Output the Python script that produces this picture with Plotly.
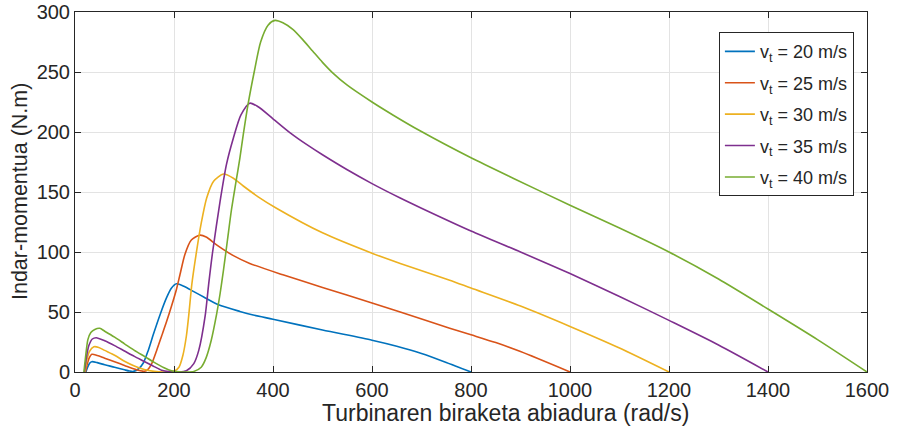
import plotly.graph_objects as go

# Turbine speed (rad/s) and torque (N.m)
speed_20 = [22, 26, 30, 34, 45, 60, 80, 100, 110, 118, 128, 138, 148, 158, 172, 185, 195, 205, 220, 240, 260, 290, 333, 360, 400, 500, 600, 650, 700, 750, 800]
torque_20 = [0, 4.5, 7.5, 8.6, 7.8, 6, 4, 1.8, 0.8, 0.5, 2.5, 7.5, 18, 31, 48, 62, 70, 73.5, 71.5, 67, 62.5, 56, 50.5, 47.5, 44, 35, 26.5, 21.5, 15.5, 8, 0]

speed_25 = [21, 25, 29, 34, 45, 60, 80, 100, 120, 132, 140, 147, 155, 165, 175, 185, 195, 205, 212, 222, 235, 252, 265, 286, 320, 353, 420, 500, 600, 657, 757, 800, 850, 900, 1000]
torque_25 = [0, 7, 12, 14.7, 13.8, 11.5, 8.5, 5.5, 2.5, 1, 0.6, 2, 7, 18, 30, 42, 55, 69, 81, 98, 110, 114, 112.5, 106, 97, 90.5, 81, 70.5, 57.5, 50, 36.5, 31, 24.5, 17, 0]

speed_30 = [20, 24, 29, 38, 48, 60, 80, 100, 120, 140, 160, 180, 200, 210, 218, 225, 230, 236, 245, 255, 266, 280, 300, 320, 340, 370, 407, 500, 600, 657, 757, 800, 900, 1000, 1100, 1200]
torque_30 = [0, 10, 17, 21, 20.5, 18, 14, 9, 5, 2, 0.5, 0, 0.6, 4, 14, 30, 48, 73, 99, 124, 145, 159, 165, 161.5, 155, 146, 136.5, 116, 99, 90.5, 76.5, 70, 55, 38, 20, 0]

speed_35 = [19, 23, 28, 35, 43, 60, 80, 100, 120, 141, 160, 175, 190, 210, 225, 240, 250, 263, 270, 278, 293, 306, 320, 335, 353, 370, 400, 434, 470, 500, 550, 600, 657, 700, 800, 900, 1000, 1100, 1200, 1300, 1400]
torque_35 = [0, 12, 22, 27.5, 28.6, 26, 22, 17.5, 13, 8.6, 4.5, 1.5, 0.3, 0, 1, 7, 18, 47, 73, 100, 142, 173, 195, 214, 224, 221, 211, 199.5, 189, 181, 168.5, 157, 145, 136.5, 117.5, 100, 82, 63, 43, 22.5, 0]

speed_40 = [18, 22, 26, 32, 40, 50, 60, 80, 100, 120, 141, 160, 180, 195, 210, 225, 240, 255, 265, 275, 286, 293, 300, 308, 316, 325, 333, 340, 350, 362, 375, 390, 404, 420, 440, 460, 480, 500, 520, 550, 600, 643, 697, 800, 885, 1000, 1100, 1200, 1300, 1400, 1500, 1600]
torque_40 = [0, 15, 27, 33, 35.5, 36.4, 34, 29, 23.5, 18, 12.8, 8, 3.5, 1, 0.2, 0, 0.5, 4, 12, 26, 48, 65, 85, 110, 135, 158, 178, 198, 224, 250, 275, 289, 293, 291, 285.5, 277, 267.5, 258, 249.5, 239, 225, 214, 201, 178.5, 161.5, 139, 120, 100, 77.5, 52.5, 27, 0]

series_names = ["v<sub>t</sub> = 20 m/s", "v<sub>t</sub> = 25 m/s", "v<sub>t</sub> = 30 m/s",
                "v<sub>t</sub> = 35 m/s", "v<sub>t</sub> = 40 m/s"]
series_colors = ["#0072BD", "#D95319", "#EDB120", "#7E2F8E", "#77AC30"]

x_ticks = [0, 200, 400, 600, 800, 1000, 1200, 1400, 1600]
y_ticks = [0, 50, 100, 150, 200, 250, 300]

x_title = "Turbinaren biraketa abiadura (rad/s)"
y_title = "Indar-momentua (N.m)"

all_x = [speed_20, speed_25, speed_30, speed_35, speed_40]
all_y = [torque_20, torque_25, torque_30, torque_35, torque_40]

fig = go.Figure()
for i, (xs, ys) in enumerate(zip(all_x, all_y)):
    fig.add_trace(go.Scatter(
        x=xs, y=ys, mode="lines", name=series_names[i],
        legendgroup=f"g{i}",
        line=dict(color=series_colors[i], width=1.6, shape="spline", smoothing=0.7),
    ))

font_family = "Liberation Sans, Arial, Helvetica, sans-serif"
axis_color = "#262626"

fig.update_layout(
    width=898, height=435,
    margin=dict(l=75, r=31, t=12, b=63, autoexpand=False),
    paper_bgcolor="white", plot_bgcolor="white",
    font=dict(family=font_family, color=axis_color, size=20),
    showlegend=True,
    legend=dict(
        x=0.813, y=0.944, xanchor="left", yanchor="top",
        bgcolor="white", bordercolor=axis_color, borderwidth=1,
        font=dict(size=18, color=axis_color),
        tracegroupgap=5,
    ),
    annotations=[
        dict(text=x_title, xref="paper", yref="paper", x=0.543, y=-0.114,
             xanchor="center", yanchor="middle", showarrow=False,
             font=dict(size=23, color=axis_color)),
        dict(text=y_title, xref="paper", yref="paper", x=-0.0694, y=0.5,
             xanchor="center", yanchor="middle", showarrow=False, textangle=-90,
             font=dict(size=21.5, color=axis_color)),
    ],
)

fig.update_xaxes(
    range=[0, 1600], tickvals=x_ticks, ticktext=[str(v) for v in x_ticks],
    showgrid=True, gridcolor="#e3e3e3", gridwidth=1,
    showline=True, linecolor=axis_color, linewidth=1, mirror="ticks",
    ticks="inside", ticklen=6, tickcolor=axis_color, tickwidth=1,
    zeroline=False, tickfont=dict(size=20), automargin=False,
)
fig.update_yaxes(
    range=[0, 300], tickvals=y_ticks, ticktext=[str(v) for v in y_ticks],
    showgrid=True, gridcolor="#e3e3e3", gridwidth=1,
    showline=True, linecolor=axis_color, linewidth=1, mirror="ticks",
    ticks="inside", ticklen=6, tickcolor=axis_color, tickwidth=1,
    zeroline=False, tickfont=dict(size=20), automargin=False,
)

# remove the default page margin so the 898x435 figure fills the window exactly
fig.write_html(
    "out.html",
    config={"displayModeBar": False},
    post_script="document.body.style.margin='0';document.body.style.overflow='hidden';",
)
